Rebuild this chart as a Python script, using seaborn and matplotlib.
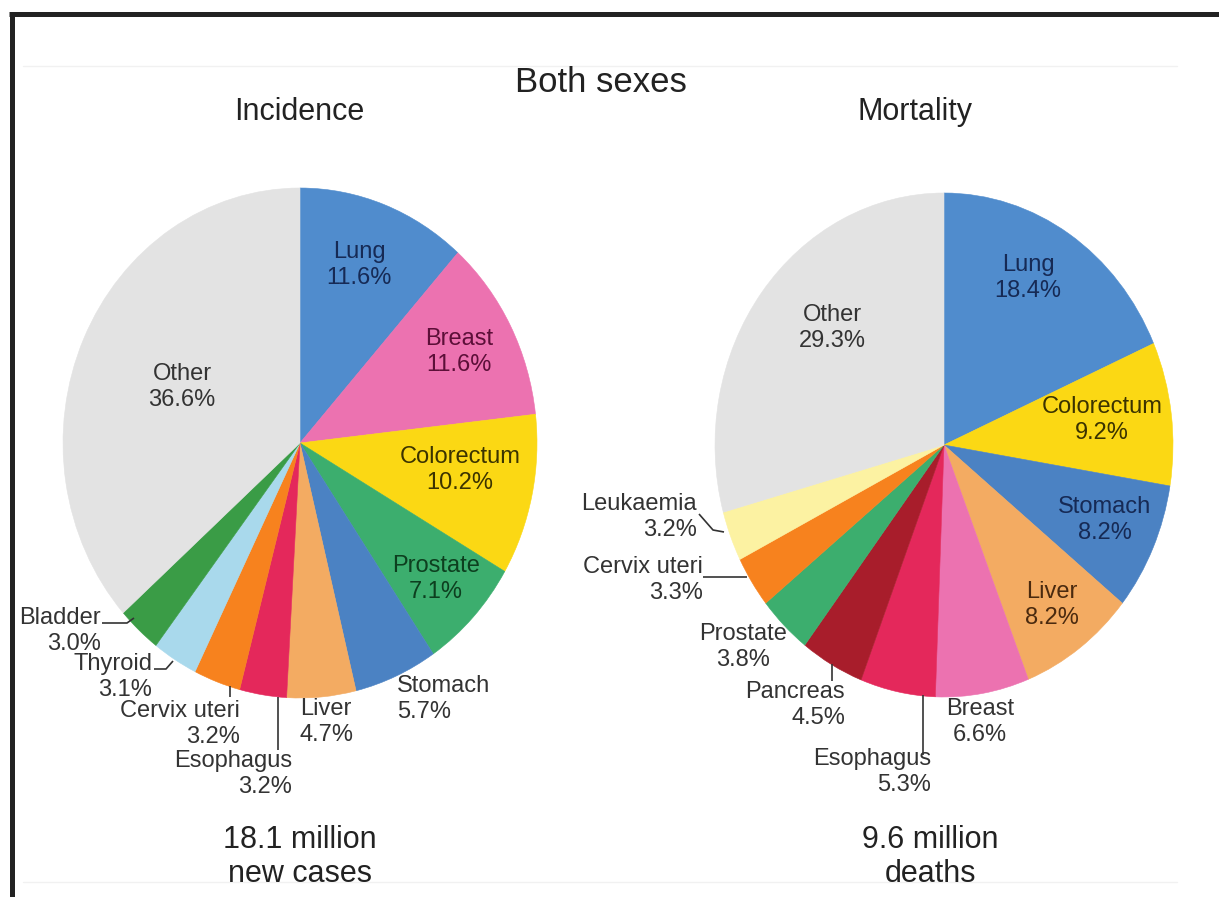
import matplotlib
matplotlib.use("Agg")
import matplotlib.pyplot as plt
import seaborn as sns

# ---------------- data ----------------
inc_sites = ["Lung", "Breast", "Colorectum", "Prostate", "Stomach", "Liver",
             "Esophagus", "Cervix uteri", "Thyroid", "Bladder", "Other"]
inc_values = [11.6, 11.6, 10.2, 7.1, 5.7, 4.7, 3.2, 3.2, 3.1, 3.0, 36.6]

mor_sites = ["Lung", "Colorectum", "Stomach", "Liver", "Breast", "Esophagus",
             "Pancreas", "Prostate", "Cervix uteri", "Leukaemia", "Other"]
mor_values = [18.4, 9.2, 8.2, 8.2, 6.6, 5.3, 4.5, 3.8, 3.3, 3.2, 29.3]

main_title = "Both sexes"
panel_titles = ["Incidence", "Mortality"]
panel_totals = ["18.1 million\nnew cases", "9.6 million\ndeaths"]

# ---------------- styles ----------------
site_colors = {
    "Lung": "#508ccd", "Breast": "#ec72b0", "Colorectum": "#fbd814",
    "Prostate": "#3cae6e", "Stomach": "#4b82c3", "Liver": "#f3ab62",
    "Esophagus": "#e4285b", "Cervix uteri": "#f7821e", "Thyroid": "#a9d9ec",
    "Bladder": "#3a9c46", "Other": "#e3e3e3", "Pancreas": "#a81d2b",
    "Leukaemia": "#fcf2a2",
}
inside_text_colors = {
    "Lung": "#162a55", "Breast": "#5c0f38", "Colorectum": "#3b3300",
    "Prostate": "#0d3f1f", "Stomach": "#162a55", "Liver": "#4a2a0f",
    "Other": "#333333",
}
OUT_TEXT = "#333333"

sns.set_theme(style="white")
plt.rcParams["font.family"] = ["Liberation Sans", "DejaVu Sans"]

W, H = 1219, 897
fig = plt.figure(figsize=(W / 100, H / 100), dpi=100)
fig.patch.set_facecolor("white")

# pie geometry in pixels (centre x, centre y, radius x, radius y)
pie_geom = [(300, 443, 237, 255), (944, 445, 229, 252)]

# label layout in pixels: site -> (x, y, ha, inside?)
label_layout = [
    {
        "Lung": (359, 265, "center", True), "Breast": (459, 352, "center", True),
        "Colorectum": (460, 470, "center", True), "Prostate": (436, 579, "center", True),
        "Other": (182, 387, "center", True), "Stomach": (397, 699, "left", False),
        "Liver": (326, 722, "center", False), "Esophagus": (292, 774, "right", False),
        "Cervix uteri": (240, 724, "right", False), "Thyroid": (152, 677, "right", False),
        "Bladder": (101, 631, "right", False),
    },
    {
        "Lung": (1028, 278, "center", True), "Colorectum": (1102, 420, "center", True),
        "Stomach": (1105, 520, "center", True), "Liver": (1052, 605, "center", True),
        "Other": (832, 328, "center", True), "Breast": (980, 722, "center", False),
        "Esophagus": (931, 772, "right", False), "Pancreas": (845, 705, "right", False),
        "Prostate": (743, 647, "center", False), "Cervix uteri": (703, 580, "right", False),
        "Leukaemia": (697, 517, "right", False),
    },
]
leaders = [
    {
        "Bladder": [(102, 623), (127, 623), (134, 618)],
        "Thyroid": [(154, 669), (166, 669), (173, 661)],
        "Cervix uteri": [(230, 697), (230, 686)],
        "Esophagus": [(278, 750), (278, 697)],
    },
    {
        "Leukaemia": [(699, 514), (713, 530), (724, 532)],
        "Cervix uteri": [(703, 577), (747, 577)],
        "Pancreas": [(832, 681), (832, 664)],
        "Esophagus": [(923, 755), (923, 695)],
    },
]

LABEL_FS = 17
pad = 1.05
datasets = [(inc_sites, inc_values), (mor_sites, mor_values)]

for (sites, values), (cx, cy, rx, ry) in zip(datasets, pie_geom):
    left = (cx - rx * pad) / W
    bottom = (H - (cy + ry * pad)) / H
    ax = fig.add_axes([left, bottom, 2 * rx * pad / W, 2 * ry * pad / H])
    wedges, _ = ax.pie(values, colors=[site_colors[s] for s in sites],
                       startangle=90, counterclock=False, radius=1.0,
                       wedgeprops=dict(linewidth=0.4))
    for w in wedges:
        w.set_edgecolor(w.get_facecolor())
    ax.set_xlim(-pad, pad)
    ax.set_ylim(-pad, pad)
    ax.set_aspect("auto")
    ax.axis("off")

# overlay in pixel coordinates for text and leader lines
ov = fig.add_axes([0, 0, 1, 1], zorder=10)
ov.set_xlim(0, W)
ov.set_ylim(H, 0)
ov.axis("off")
ov.patch.set_alpha(0)

for (sites, values), layout, lead in zip(datasets, label_layout, leaders):
    for s, v in zip(sites, values):
        x, y, ha, inside = layout[s]
        col = inside_text_colors[s] if inside else OUT_TEXT
        ov.text(x, y, f"{s}\n{v:.1f}%", ha=ha, va="center", multialignment=ha,
                fontsize=LABEL_FS, color=col, linespacing=1.2)
    for s, pts in lead.items():
        xs, ys = zip(*pts)
        ov.plot(xs, ys, color=OUT_TEXT, lw=1.2, solid_capstyle="butt")

# titles
ov.text(601, 82, main_title, ha="center", va="center", fontsize=25, color="#222222")
ov.text(299, 112, panel_titles[0], ha="center", va="center", fontsize=22, color="#222222")
ov.text(915, 112, panel_titles[1], ha="center", va="center", fontsize=22, color="#222222")
ov.text(300, 857, panel_totals[0], ha="center", va="center", fontsize=22,
        color="#222222", linespacing=1.15)
ov.text(930, 857, panel_totals[1], ha="center", va="center", fontsize=22,
        color="#222222", linespacing=1.15)

# faint rules and dark frame
ov.plot([23, 1177], [66, 66], color="#f1f1f1", lw=1)
ov.plot([23, 1177], [882, 882], color="#f1f1f1", lw=1)
ov.plot([9, W], [14.5, 14.5], color="#222222", lw=3.6, solid_capstyle="butt")
ov.plot([11.5, 11.5], [12, H], color="#222222", lw=3.6, solid_capstyle="butt")

fig.savefig("out.png", dpi=100, facecolor="white")
